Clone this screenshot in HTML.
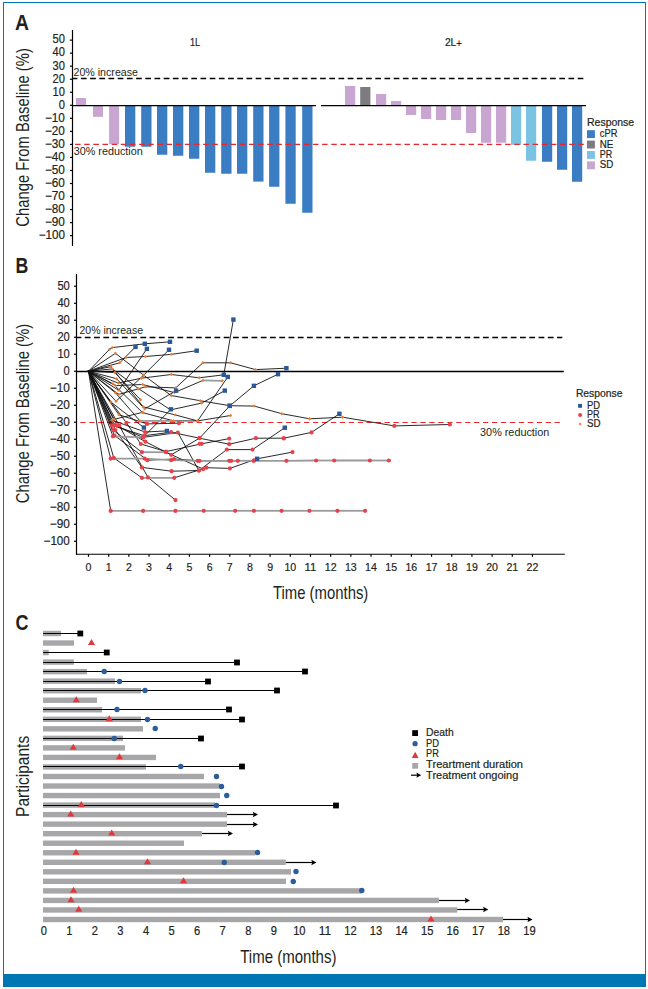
<!DOCTYPE html>
<html><head><meta charset="utf-8"><title>Figure</title>
<style>html,body{margin:0;padding:0;background:#fff;}svg{display:block;}text.s{stroke:#231f20;stroke-width:0.2px;}</style></head>
<body><svg width="648" height="989" viewBox="0 0 648 989" font-family='"Liberation Sans", Arial, sans-serif' fill="#231f20">
<rect width="648" height="989" fill="#fff"/>
<rect x="3.5" y="2.5" width="642" height="984" fill="none" stroke="#0077b5" stroke-width="1"/>
<rect x="3.00" y="974.00" width="643.00" height="13.00" fill="#0077b5"/>
<text x="15.00" y="29.90" font-size="21.8" font-weight="bold" textLength="14.00" lengthAdjust="spacingAndGlyphs">A</text>
<text x="28.90" y="226.70" font-size="17.6" textLength="178.60" lengthAdjust="spacingAndGlyphs" transform="rotate(-90 28.90 226.70)">Change From Baseline (%)</text>
<line x1="72.50" y1="29.90" x2="72.50" y2="245.90" stroke="#000" stroke-width="1.2"/>
<line x1="69.90" y1="40.14" x2="72.50" y2="40.14" stroke="#000" stroke-width="1.2"/>
<text x="64.90" y="43.44" font-size="12" text-anchor="end" textLength="12.40" lengthAdjust="spacingAndGlyphs" class="s">50</text>
<line x1="69.90" y1="53.17" x2="72.50" y2="53.17" stroke="#000" stroke-width="1.2"/>
<text x="64.90" y="56.47" font-size="12" text-anchor="end" textLength="12.40" lengthAdjust="spacingAndGlyphs" class="s">40</text>
<line x1="69.90" y1="66.20" x2="72.50" y2="66.20" stroke="#000" stroke-width="1.2"/>
<text x="64.90" y="69.50" font-size="12" text-anchor="end" textLength="12.40" lengthAdjust="spacingAndGlyphs" class="s">30</text>
<line x1="69.90" y1="79.23" x2="72.50" y2="79.23" stroke="#000" stroke-width="1.2"/>
<text x="64.90" y="82.53" font-size="12" text-anchor="end" textLength="12.40" lengthAdjust="spacingAndGlyphs" class="s">20</text>
<line x1="69.90" y1="92.27" x2="72.50" y2="92.27" stroke="#000" stroke-width="1.2"/>
<text x="64.90" y="95.57" font-size="12" text-anchor="end" textLength="12.40" lengthAdjust="spacingAndGlyphs" class="s">10</text>
<line x1="69.90" y1="105.30" x2="72.50" y2="105.30" stroke="#000" stroke-width="1.2"/>
<text x="64.90" y="108.60" font-size="12" text-anchor="end" textLength="6.20" lengthAdjust="spacingAndGlyphs" class="s">0</text>
<line x1="69.90" y1="118.33" x2="72.50" y2="118.33" stroke="#000" stroke-width="1.2"/>
<text x="64.90" y="121.63" font-size="12" text-anchor="end" textLength="20.00" lengthAdjust="spacingAndGlyphs" class="s">−10</text>
<line x1="69.90" y1="131.37" x2="72.50" y2="131.37" stroke="#000" stroke-width="1.2"/>
<text x="64.90" y="134.67" font-size="12" text-anchor="end" textLength="20.00" lengthAdjust="spacingAndGlyphs" class="s">−20</text>
<line x1="69.90" y1="144.40" x2="72.50" y2="144.40" stroke="#000" stroke-width="1.2"/>
<text x="64.90" y="147.70" font-size="12" text-anchor="end" textLength="20.00" lengthAdjust="spacingAndGlyphs" class="s">−30</text>
<line x1="69.90" y1="157.43" x2="72.50" y2="157.43" stroke="#000" stroke-width="1.2"/>
<text x="64.90" y="160.73" font-size="12" text-anchor="end" textLength="20.00" lengthAdjust="spacingAndGlyphs" class="s">−40</text>
<line x1="69.90" y1="170.46" x2="72.50" y2="170.46" stroke="#000" stroke-width="1.2"/>
<text x="64.90" y="173.76" font-size="12" text-anchor="end" textLength="20.00" lengthAdjust="spacingAndGlyphs" class="s">−50</text>
<line x1="69.90" y1="183.50" x2="72.50" y2="183.50" stroke="#000" stroke-width="1.2"/>
<text x="64.90" y="186.80" font-size="12" text-anchor="end" textLength="20.00" lengthAdjust="spacingAndGlyphs" class="s">−60</text>
<line x1="69.90" y1="196.53" x2="72.50" y2="196.53" stroke="#000" stroke-width="1.2"/>
<text x="64.90" y="199.83" font-size="12" text-anchor="end" textLength="20.00" lengthAdjust="spacingAndGlyphs" class="s">−70</text>
<line x1="69.90" y1="209.56" x2="72.50" y2="209.56" stroke="#000" stroke-width="1.2"/>
<text x="64.90" y="212.86" font-size="12" text-anchor="end" textLength="20.00" lengthAdjust="spacingAndGlyphs" class="s">−80</text>
<line x1="69.90" y1="222.60" x2="72.50" y2="222.60" stroke="#000" stroke-width="1.2"/>
<text x="64.90" y="225.90" font-size="12" text-anchor="end" textLength="20.00" lengthAdjust="spacingAndGlyphs" class="s">−90</text>
<line x1="69.90" y1="235.63" x2="72.50" y2="235.63" stroke="#000" stroke-width="1.2"/>
<text x="64.90" y="238.93" font-size="12" text-anchor="end" textLength="26.20" lengthAdjust="spacingAndGlyphs" class="s">−100</text>
<text x="189.90" y="45.90" font-size="11" textLength="10.20" lengthAdjust="spacingAndGlyphs" class="s">1L</text>
<text x="444.90" y="45.90" font-size="11" textLength="17.00" lengthAdjust="spacingAndGlyphs" class="s">2L<tspan dy="0.9" font-size="10.2">+</tspan></text>
<rect x="76.00" y="98.00" width="10.00" height="7.50" fill="#c9a6d1"/>
<rect x="93.00" y="105.50" width="10.00" height="11.35" fill="#c9a6d1"/>
<rect x="109.10" y="105.50" width="10.00" height="38.60" fill="#c9a6d1"/>
<rect x="125.00" y="105.50" width="10.30" height="41.25" fill="#3a7dc2"/>
<rect x="141.20" y="105.50" width="10.30" height="41.25" fill="#3a7dc2"/>
<rect x="157.00" y="105.50" width="10.30" height="49.25" fill="#3a7dc2"/>
<rect x="173.00" y="105.50" width="10.30" height="50.25" fill="#3a7dc2"/>
<rect x="189.00" y="105.50" width="10.30" height="53.25" fill="#3a7dc2"/>
<rect x="205.00" y="105.50" width="10.30" height="67.25" fill="#3a7dc2"/>
<rect x="221.20" y="105.50" width="10.30" height="68.25" fill="#3a7dc2"/>
<rect x="237.00" y="105.50" width="10.30" height="68.25" fill="#3a7dc2"/>
<rect x="253.20" y="105.50" width="10.30" height="76.10" fill="#3a7dc2"/>
<rect x="269.10" y="105.50" width="10.30" height="81.25" fill="#3a7dc2"/>
<rect x="285.40" y="105.50" width="10.30" height="98.25" fill="#3a7dc2"/>
<rect x="302.20" y="105.50" width="10.30" height="107.25" fill="#3a7dc2"/>
<rect x="345.00" y="86.00" width="10.20" height="19.50" fill="#c9a6d1"/>
<rect x="360.20" y="87.00" width="10.20" height="18.50" fill="#7b7c80"/>
<rect x="376.00" y="94.00" width="10.20" height="11.50" fill="#c9a6d1"/>
<rect x="391.00" y="101.00" width="10.20" height="4.50" fill="#c9a6d1"/>
<rect x="406.00" y="105.50" width="10.20" height="9.50" fill="#c9a6d1"/>
<rect x="421.00" y="105.50" width="10.20" height="13.50" fill="#c9a6d1"/>
<rect x="436.00" y="105.50" width="10.20" height="14.50" fill="#c9a6d1"/>
<rect x="451.00" y="105.50" width="10.20" height="14.50" fill="#c9a6d1"/>
<rect x="466.00" y="105.50" width="10.20" height="27.50" fill="#c9a6d1"/>
<rect x="481.00" y="105.50" width="10.20" height="37.25" fill="#c9a6d1"/>
<rect x="496.00" y="105.50" width="10.20" height="37.25" fill="#c9a6d1"/>
<rect x="511.00" y="105.50" width="10.20" height="39.25" fill="#7ac3e3"/>
<rect x="526.00" y="105.50" width="10.20" height="55.25" fill="#7ac3e3"/>
<rect x="542.00" y="105.50" width="10.20" height="56.25" fill="#3a7dc2"/>
<rect x="557.00" y="105.50" width="10.20" height="64.25" fill="#3a7dc2"/>
<rect x="572.00" y="105.50" width="10.20" height="76.25" fill="#3a7dc2"/>
<line x1="72.50" y1="105.50" x2="316.00" y2="105.50" stroke="#000" stroke-width="1.25"/>
<line x1="321.00" y1="105.50" x2="586.00" y2="105.50" stroke="#000" stroke-width="1.25"/>
<line x1="72.50" y1="78.50" x2="584.00" y2="78.50" stroke="#000" stroke-width="1.3" stroke-dasharray="5.7 3.5" stroke-dashoffset="0.8"/>
<line x1="72.50" y1="144.40" x2="584.00" y2="144.40" stroke="#e8262d" stroke-width="1.3" stroke-dasharray="5.5 3.65" stroke-dashoffset="6.6"/>
<text x="73.50" y="76.10" font-size="10.4" textLength="64.50" lengthAdjust="spacingAndGlyphs">20% increase</text>
<text x="73.70" y="154.80" font-size="10.4" textLength="69.10" lengthAdjust="spacingAndGlyphs">30% reduction</text>
<text x="587.00" y="125.60" font-size="10.3" textLength="47.20" lengthAdjust="spacingAndGlyphs" class="s">Response</text>
<rect x="587.00" y="130.20" width="7.90" height="7.90" fill="#3a7dc2"/>
<text x="599.80" y="137.20" font-size="10.3" textLength="17.60" lengthAdjust="spacingAndGlyphs" class="s">cPR</text>
<rect x="587.00" y="140.60" width="7.90" height="7.90" fill="#7b7c80"/>
<text x="599.80" y="147.60" font-size="10.3" textLength="13.60" lengthAdjust="spacingAndGlyphs" class="s">NE</text>
<rect x="587.00" y="151.00" width="7.90" height="7.90" fill="#7ac3e3"/>
<text x="599.80" y="158.00" font-size="10.3" textLength="12.50" lengthAdjust="spacingAndGlyphs" class="s">PR</text>
<rect x="587.00" y="161.40" width="7.90" height="7.90" fill="#c9a6d1"/>
<text x="599.80" y="168.40" font-size="10.3" textLength="13.60" lengthAdjust="spacingAndGlyphs" class="s">SD</text>
<text x="15.50" y="272.50" font-size="21.6" font-weight="bold" textLength="12.80" lengthAdjust="spacingAndGlyphs">B</text>
<text x="28.90" y="503.30" font-size="17.6" textLength="179.60" lengthAdjust="spacingAndGlyphs" transform="rotate(-90 28.90 503.30)">Change From Baseline (%)</text>
<line x1="76.50" y1="274.10" x2="76.50" y2="554.80" stroke="#000" stroke-width="1.2"/>
<line x1="75.90" y1="554.25" x2="564.80" y2="554.25" stroke="#000" stroke-width="1.2"/>
<line x1="74.00" y1="286.25" x2="76.50" y2="286.25" stroke="#000" stroke-width="1.2"/>
<text x="69.80" y="290.25" font-size="12" text-anchor="end" textLength="12.40" lengthAdjust="spacingAndGlyphs" class="s">50</text>
<line x1="74.00" y1="303.25" x2="76.50" y2="303.25" stroke="#000" stroke-width="1.2"/>
<text x="69.80" y="307.25" font-size="12" text-anchor="end" textLength="12.40" lengthAdjust="spacingAndGlyphs" class="s">40</text>
<line x1="74.00" y1="320.25" x2="76.50" y2="320.25" stroke="#000" stroke-width="1.2"/>
<text x="69.80" y="324.25" font-size="12" text-anchor="end" textLength="12.40" lengthAdjust="spacingAndGlyphs" class="s">30</text>
<line x1="74.00" y1="337.25" x2="76.50" y2="337.25" stroke="#000" stroke-width="1.2"/>
<text x="69.80" y="341.25" font-size="12" text-anchor="end" textLength="12.40" lengthAdjust="spacingAndGlyphs" class="s">20</text>
<line x1="74.00" y1="354.25" x2="76.50" y2="354.25" stroke="#000" stroke-width="1.2"/>
<text x="69.80" y="358.25" font-size="12" text-anchor="end" textLength="12.40" lengthAdjust="spacingAndGlyphs" class="s">10</text>
<line x1="74.00" y1="371.25" x2="76.50" y2="371.25" stroke="#000" stroke-width="1.2"/>
<text x="69.80" y="375.25" font-size="12" text-anchor="end" textLength="6.20" lengthAdjust="spacingAndGlyphs" class="s">0</text>
<line x1="74.00" y1="388.25" x2="76.50" y2="388.25" stroke="#000" stroke-width="1.2"/>
<text x="69.80" y="392.25" font-size="12" text-anchor="end" textLength="20.00" lengthAdjust="spacingAndGlyphs" class="s">−10</text>
<line x1="74.00" y1="405.25" x2="76.50" y2="405.25" stroke="#000" stroke-width="1.2"/>
<text x="69.80" y="409.25" font-size="12" text-anchor="end" textLength="20.00" lengthAdjust="spacingAndGlyphs" class="s">−20</text>
<line x1="74.00" y1="422.25" x2="76.50" y2="422.25" stroke="#000" stroke-width="1.2"/>
<text x="69.80" y="426.25" font-size="12" text-anchor="end" textLength="20.00" lengthAdjust="spacingAndGlyphs" class="s">−30</text>
<line x1="74.00" y1="439.25" x2="76.50" y2="439.25" stroke="#000" stroke-width="1.2"/>
<text x="69.80" y="443.25" font-size="12" text-anchor="end" textLength="20.00" lengthAdjust="spacingAndGlyphs" class="s">−40</text>
<line x1="74.00" y1="456.25" x2="76.50" y2="456.25" stroke="#000" stroke-width="1.2"/>
<text x="69.80" y="460.25" font-size="12" text-anchor="end" textLength="20.00" lengthAdjust="spacingAndGlyphs" class="s">−50</text>
<line x1="74.00" y1="473.25" x2="76.50" y2="473.25" stroke="#000" stroke-width="1.2"/>
<text x="69.80" y="477.25" font-size="12" text-anchor="end" textLength="20.00" lengthAdjust="spacingAndGlyphs" class="s">−60</text>
<line x1="74.00" y1="490.25" x2="76.50" y2="490.25" stroke="#000" stroke-width="1.2"/>
<text x="69.80" y="494.25" font-size="12" text-anchor="end" textLength="20.00" lengthAdjust="spacingAndGlyphs" class="s">−70</text>
<line x1="74.00" y1="507.25" x2="76.50" y2="507.25" stroke="#000" stroke-width="1.2"/>
<text x="69.80" y="511.25" font-size="12" text-anchor="end" textLength="20.00" lengthAdjust="spacingAndGlyphs" class="s">−80</text>
<line x1="74.00" y1="524.25" x2="76.50" y2="524.25" stroke="#000" stroke-width="1.2"/>
<text x="69.80" y="528.25" font-size="12" text-anchor="end" textLength="20.00" lengthAdjust="spacingAndGlyphs" class="s">−90</text>
<line x1="74.00" y1="541.25" x2="76.50" y2="541.25" stroke="#000" stroke-width="1.2"/>
<text x="69.80" y="545.25" font-size="12" text-anchor="end" textLength="26.20" lengthAdjust="spacingAndGlyphs" class="s">−100</text>
<line x1="88.50" y1="554.25" x2="88.50" y2="556.80" stroke="#000" stroke-width="1.2"/>
<text x="88.50" y="570.75" font-size="11.6" text-anchor="middle" textLength="5.90" lengthAdjust="spacingAndGlyphs" class="s">0</text>
<line x1="108.68" y1="554.25" x2="108.68" y2="556.80" stroke="#000" stroke-width="1.2"/>
<text x="108.68" y="570.75" font-size="11.6" text-anchor="middle" textLength="5.90" lengthAdjust="spacingAndGlyphs" class="s">1</text>
<line x1="128.86" y1="554.25" x2="128.86" y2="556.80" stroke="#000" stroke-width="1.2"/>
<text x="128.86" y="570.75" font-size="11.6" text-anchor="middle" textLength="5.90" lengthAdjust="spacingAndGlyphs" class="s">2</text>
<line x1="149.04" y1="554.25" x2="149.04" y2="556.80" stroke="#000" stroke-width="1.2"/>
<text x="149.04" y="570.75" font-size="11.6" text-anchor="middle" textLength="5.90" lengthAdjust="spacingAndGlyphs" class="s">3</text>
<line x1="169.22" y1="554.25" x2="169.22" y2="556.80" stroke="#000" stroke-width="1.2"/>
<text x="169.22" y="570.75" font-size="11.6" text-anchor="middle" textLength="5.90" lengthAdjust="spacingAndGlyphs" class="s">4</text>
<line x1="189.40" y1="554.25" x2="189.40" y2="556.80" stroke="#000" stroke-width="1.2"/>
<text x="189.40" y="570.75" font-size="11.6" text-anchor="middle" textLength="5.90" lengthAdjust="spacingAndGlyphs" class="s">5</text>
<line x1="209.58" y1="554.25" x2="209.58" y2="556.80" stroke="#000" stroke-width="1.2"/>
<text x="209.58" y="570.75" font-size="11.6" text-anchor="middle" textLength="5.90" lengthAdjust="spacingAndGlyphs" class="s">6</text>
<line x1="229.76" y1="554.25" x2="229.76" y2="556.80" stroke="#000" stroke-width="1.2"/>
<text x="229.76" y="570.75" font-size="11.6" text-anchor="middle" textLength="5.90" lengthAdjust="spacingAndGlyphs" class="s">7</text>
<line x1="249.94" y1="554.25" x2="249.94" y2="556.80" stroke="#000" stroke-width="1.2"/>
<text x="249.94" y="570.75" font-size="11.6" text-anchor="middle" textLength="5.90" lengthAdjust="spacingAndGlyphs" class="s">8</text>
<line x1="270.12" y1="554.25" x2="270.12" y2="556.80" stroke="#000" stroke-width="1.2"/>
<text x="270.12" y="570.75" font-size="11.6" text-anchor="middle" textLength="5.90" lengthAdjust="spacingAndGlyphs" class="s">9</text>
<line x1="290.30" y1="554.25" x2="290.30" y2="556.80" stroke="#000" stroke-width="1.2"/>
<text x="290.30" y="570.75" font-size="11.6" text-anchor="middle" textLength="11.80" lengthAdjust="spacingAndGlyphs" class="s">10</text>
<line x1="310.48" y1="554.25" x2="310.48" y2="556.80" stroke="#000" stroke-width="1.2"/>
<text x="310.48" y="570.75" font-size="11.6" text-anchor="middle" textLength="11.80" lengthAdjust="spacingAndGlyphs" class="s">11</text>
<line x1="330.66" y1="554.25" x2="330.66" y2="556.80" stroke="#000" stroke-width="1.2"/>
<text x="330.66" y="570.75" font-size="11.6" text-anchor="middle" textLength="11.80" lengthAdjust="spacingAndGlyphs" class="s">12</text>
<line x1="350.84" y1="554.25" x2="350.84" y2="556.80" stroke="#000" stroke-width="1.2"/>
<text x="350.84" y="570.75" font-size="11.6" text-anchor="middle" textLength="11.80" lengthAdjust="spacingAndGlyphs" class="s">13</text>
<line x1="371.02" y1="554.25" x2="371.02" y2="556.80" stroke="#000" stroke-width="1.2"/>
<text x="371.02" y="570.75" font-size="11.6" text-anchor="middle" textLength="11.80" lengthAdjust="spacingAndGlyphs" class="s">14</text>
<line x1="391.20" y1="554.25" x2="391.20" y2="556.80" stroke="#000" stroke-width="1.2"/>
<text x="391.20" y="570.75" font-size="11.6" text-anchor="middle" textLength="11.80" lengthAdjust="spacingAndGlyphs" class="s">15</text>
<line x1="411.38" y1="554.25" x2="411.38" y2="556.80" stroke="#000" stroke-width="1.2"/>
<text x="411.38" y="570.75" font-size="11.6" text-anchor="middle" textLength="11.80" lengthAdjust="spacingAndGlyphs" class="s">16</text>
<line x1="431.56" y1="554.25" x2="431.56" y2="556.80" stroke="#000" stroke-width="1.2"/>
<text x="431.56" y="570.75" font-size="11.6" text-anchor="middle" textLength="11.80" lengthAdjust="spacingAndGlyphs" class="s">17</text>
<line x1="451.74" y1="554.25" x2="451.74" y2="556.80" stroke="#000" stroke-width="1.2"/>
<text x="451.74" y="570.75" font-size="11.6" text-anchor="middle" textLength="11.80" lengthAdjust="spacingAndGlyphs" class="s">18</text>
<line x1="471.92" y1="554.25" x2="471.92" y2="556.80" stroke="#000" stroke-width="1.2"/>
<text x="471.92" y="570.75" font-size="11.6" text-anchor="middle" textLength="11.80" lengthAdjust="spacingAndGlyphs" class="s">19</text>
<line x1="492.10" y1="554.25" x2="492.10" y2="556.80" stroke="#000" stroke-width="1.2"/>
<text x="492.10" y="570.75" font-size="11.6" text-anchor="middle" textLength="11.80" lengthAdjust="spacingAndGlyphs" class="s">20</text>
<line x1="512.28" y1="554.25" x2="512.28" y2="556.80" stroke="#000" stroke-width="1.2"/>
<text x="512.28" y="570.75" font-size="11.6" text-anchor="middle" textLength="11.80" lengthAdjust="spacingAndGlyphs" class="s">21</text>
<line x1="532.46" y1="554.25" x2="532.46" y2="556.80" stroke="#000" stroke-width="1.2"/>
<text x="532.46" y="570.75" font-size="11.6" text-anchor="middle" textLength="11.80" lengthAdjust="spacingAndGlyphs" class="s">22</text>
<text x="273.00" y="598.70" font-size="18.2" textLength="95.30" lengthAdjust="spacingAndGlyphs">Time (months)</text>
<line x1="76.50" y1="337.50" x2="562.30" y2="337.50" stroke="#000" stroke-width="1.3" stroke-dasharray="5.8 3.46" stroke-dashoffset="0.96"/>
<line x1="76.50" y1="371.50" x2="563.80" y2="371.50" stroke="#000" stroke-width="1.3"/>
<line x1="76.50" y1="422.50" x2="562.30" y2="422.50" stroke="#e8262d" stroke-width="1.2" stroke-dasharray="5.3 3.65" stroke-dashoffset="5.2"/>
<text x="79.50" y="333.80" font-size="10.4" textLength="63.50" lengthAdjust="spacingAndGlyphs">20% increase</text>
<text x="480.10" y="436.10" font-size="10.4" textLength="69.20" lengthAdjust="spacingAndGlyphs">30% reduction</text>
<text x="575.90" y="396.70" font-size="10.3" textLength="46.60" lengthAdjust="spacingAndGlyphs" class="s">Response</text>
<rect x="578.10" y="403.90" width="3.90" height="3.90" fill="#2b5896"/>
<text x="586.90" y="409.00" font-size="10.8" textLength="13.10" lengthAdjust="spacingAndGlyphs" class="s">PD</text>
<circle cx="580.1" cy="415.1" r="2.0" fill="#e8414a"/>
<text x="586.90" y="417.70" font-size="10.8" textLength="12.60" lengthAdjust="spacingAndGlyphs" class="s">PR</text>
<path d="M580.2 422.4 L581.7 423.9 L580.2 425.4 L578.7 423.9Z" fill="#ec7d32"/>
<text x="586.90" y="426.80" font-size="10.8" textLength="13.60" lengthAdjust="spacingAndGlyphs" class="s">SD</text>
<g stroke="#111" stroke-width="0.9" fill="none" stroke-linecap="round">
<line x1="88.50" y1="371.25" x2="109.40" y2="349.40"/>
<line x1="109.40" y1="349.40" x2="112.20" y2="347.60"/>
<line x1="112.20" y1="347.60" x2="144.80" y2="343.80"/>
<line x1="144.80" y1="343.80" x2="170.00" y2="341.80"/>
<line x1="88.50" y1="371.25" x2="126.10" y2="357.50"/>
<line x1="126.10" y1="357.50" x2="145.40" y2="356.50"/>
<line x1="145.40" y1="356.50" x2="171.20" y2="354.40"/>
<line x1="171.20" y1="354.40" x2="196.70" y2="350.70"/>
<line x1="88.50" y1="371.25" x2="119.70" y2="362.80"/>
<line x1="119.70" y1="362.80" x2="135.50" y2="346.90"/>
<line x1="88.50" y1="371.25" x2="118.75" y2="390.40"/>
<line x1="118.75" y1="390.40" x2="146.90" y2="348.80"/>
<line x1="88.50" y1="371.25" x2="116.00" y2="401.25"/>
<line x1="116.00" y1="401.25" x2="143.60" y2="375.20"/>
<line x1="143.60" y1="375.20" x2="169.00" y2="349.80"/>
<line x1="88.50" y1="371.25" x2="115.40" y2="353.30"/>
<line x1="115.40" y1="353.30" x2="143.60" y2="375.20"/>
<line x1="143.60" y1="375.20" x2="171.10" y2="395.50"/>
<line x1="171.10" y1="395.50" x2="200.10" y2="400.70"/>
<line x1="200.10" y1="400.70" x2="229.80" y2="405.70"/>
<line x1="229.80" y1="405.70" x2="254.30" y2="406.10"/>
<line x1="254.30" y1="406.10" x2="281.80" y2="413.70"/>
<line x1="281.80" y1="413.70" x2="309.70" y2="418.80"/>
<line x1="309.70" y1="418.80" x2="342.60" y2="417.20"/>
<line x1="342.60" y1="417.20" x2="394.30" y2="425.90"/>
<line x1="394.30" y1="425.90" x2="449.80" y2="424.50"/>
<line x1="88.50" y1="371.25" x2="118.25" y2="383.10"/>
<line x1="118.25" y1="383.10" x2="141.40" y2="378.20"/>
<line x1="141.40" y1="378.20" x2="171.30" y2="374.50"/>
<line x1="171.30" y1="374.50" x2="199.30" y2="377.80"/>
<line x1="199.30" y1="377.80" x2="223.80" y2="374.80"/>
<line x1="223.80" y1="374.80" x2="233.40" y2="319.60"/>
<line x1="88.50" y1="371.25" x2="118.75" y2="394.40"/>
<line x1="118.75" y1="394.40" x2="145.40" y2="386.80"/>
<line x1="145.40" y1="386.80" x2="175.70" y2="387.90"/>
<line x1="175.70" y1="387.90" x2="202.90" y2="362.80"/>
<line x1="202.90" y1="362.80" x2="230.60" y2="362.80"/>
<line x1="230.60" y1="362.80" x2="255.50" y2="369.60"/>
<line x1="255.50" y1="369.60" x2="286.40" y2="368.20"/>
<line x1="88.50" y1="371.25" x2="115.40" y2="385.60"/>
<line x1="115.40" y1="385.60" x2="142.60" y2="384.50"/>
<line x1="142.60" y1="384.50" x2="174.40" y2="392.60"/>
<line x1="174.40" y1="392.60" x2="202.90" y2="380.40"/>
<line x1="88.50" y1="371.25" x2="112.30" y2="368.90"/>
<line x1="112.30" y1="368.90" x2="138.60" y2="388.70"/>
<line x1="138.60" y1="388.70" x2="170.50" y2="409.90"/>
<line x1="170.50" y1="409.90" x2="201.60" y2="403.10"/>
<line x1="201.60" y1="403.10" x2="224.80" y2="390.60"/>
<line x1="88.50" y1="371.25" x2="114.75" y2="372.50"/>
<line x1="114.75" y1="372.50" x2="140.50" y2="399.80"/>
<line x1="88.50" y1="371.25" x2="110.80" y2="366.70"/>
<line x1="110.80" y1="366.70" x2="143.30" y2="406.90"/>
<line x1="143.30" y1="406.90" x2="175.20" y2="414.90"/>
<line x1="175.20" y1="414.90" x2="197.60" y2="420.90"/>
<line x1="197.60" y1="420.90" x2="230.60" y2="415.50"/>
<line x1="88.50" y1="371.25" x2="116.60" y2="378.75"/>
<line x1="116.60" y1="378.75" x2="144.70" y2="408.90"/>
<line x1="144.70" y1="408.90" x2="176.10" y2="390.70"/>
<line x1="88.50" y1="371.25" x2="112.90" y2="383.75"/>
<line x1="112.90" y1="383.75" x2="142.60" y2="412.60"/>
<line x1="142.60" y1="412.60" x2="173.60" y2="420.90"/>
<line x1="88.50" y1="371.25" x2="115.40" y2="392.75"/>
<line x1="115.40" y1="392.75" x2="140.00" y2="420.90"/>
<line x1="171.10" y1="420.90" x2="197.60" y2="420.90"/>
<line x1="197.60" y1="420.90" x2="227.80" y2="376.90"/>
<line x1="88.50" y1="371.25" x2="110.75" y2="401.90"/>
<line x1="110.75" y1="401.90" x2="143.90" y2="427.60"/>
<line x1="88.50" y1="371.25" x2="118.90" y2="414.70"/>
<line x1="118.90" y1="414.70" x2="147.00" y2="423.90"/>
<line x1="147.00" y1="423.90" x2="178.90" y2="423.20"/>
<line x1="88.50" y1="371.25" x2="111.90" y2="420.10"/>
<line x1="111.90" y1="420.10" x2="145.10" y2="432.00"/>
<line x1="145.10" y1="432.00" x2="166.90" y2="430.90"/>
<line x1="88.50" y1="371.25" x2="114.20" y2="419.30"/>
<line x1="114.20" y1="419.30" x2="142.80" y2="412.30"/>
<line x1="88.50" y1="371.25" x2="112.20" y2="425.50"/>
<line x1="112.20" y1="425.50" x2="144.20" y2="435.70"/>
<line x1="144.20" y1="435.70" x2="171.10" y2="432.20"/>
<line x1="171.10" y1="432.20" x2="199.50" y2="438.20"/>
<line x1="199.50" y1="438.20" x2="229.20" y2="444.20"/>
<line x1="229.20" y1="444.20" x2="255.90" y2="438.20"/>
<line x1="255.90" y1="438.20" x2="283.80" y2="438.20"/>
<line x1="283.80" y1="438.20" x2="311.50" y2="432.40"/>
<line x1="311.50" y1="432.40" x2="339.40" y2="413.80"/>
<line x1="88.50" y1="371.25" x2="114.50" y2="425.00"/>
<line x1="114.50" y1="425.00" x2="143.00" y2="437.40"/>
<line x1="143.00" y1="437.40" x2="177.80" y2="432.50"/>
<line x1="177.80" y1="432.50" x2="198.90" y2="470.60"/>
<line x1="198.90" y1="470.60" x2="226.80" y2="449.60"/>
<line x1="226.80" y1="449.60" x2="252.50" y2="449.60"/>
<line x1="252.50" y1="449.60" x2="284.80" y2="427.70"/>
<line x1="88.50" y1="371.25" x2="116.90" y2="425.50"/>
<line x1="116.90" y1="425.50" x2="145.40" y2="441.70"/>
<line x1="145.40" y1="441.70" x2="171.20" y2="454.80"/>
<line x1="171.20" y1="454.80" x2="199.50" y2="438.20"/>
<line x1="199.50" y1="438.20" x2="229.80" y2="405.90"/>
<line x1="229.80" y1="405.90" x2="253.90" y2="385.80"/>
<line x1="253.90" y1="385.80" x2="278.00" y2="374.20"/>
<line x1="88.50" y1="371.25" x2="126.40" y2="422.80"/>
<line x1="126.40" y1="422.80" x2="140.80" y2="444.00"/>
<line x1="140.80" y1="444.00" x2="166.00" y2="451.60"/>
<line x1="166.00" y1="451.60" x2="201.70" y2="443.80"/>
<line x1="201.70" y1="443.80" x2="229.20" y2="438.60"/>
<line x1="88.50" y1="371.25" x2="113.00" y2="430.00"/>
<line x1="113.00" y1="430.00" x2="141.90" y2="452.20"/>
<line x1="165.90" y1="452.20" x2="203.20" y2="469.10"/>
<line x1="88.50" y1="371.25" x2="113.00" y2="436.30"/>
<line x1="143.00" y1="437.40" x2="170.90" y2="409.30"/>
<line x1="88.50" y1="371.25" x2="110.70" y2="458.60"/>
<line x1="88.50" y1="371.25" x2="113.80" y2="457.90"/>
<line x1="113.80" y1="457.90" x2="141.90" y2="477.80"/>
<line x1="174.30" y1="477.80" x2="206.50" y2="467.70"/>
<line x1="206.50" y1="467.70" x2="229.90" y2="468.40"/>
<line x1="229.90" y1="468.40" x2="257.10" y2="458.80"/>
<line x1="257.10" y1="458.80" x2="292.50" y2="452.10"/>
<line x1="88.50" y1="371.25" x2="110.70" y2="510.90"/>
<line x1="88.50" y1="371.25" x2="115.30" y2="430.00"/>
<line x1="115.30" y1="430.00" x2="141.90" y2="467.40"/>
<line x1="141.90" y1="467.40" x2="171.60" y2="471.20"/>
<line x1="171.60" y1="471.20" x2="199.10" y2="470.50"/>
<line x1="88.50" y1="371.25" x2="114.50" y2="435.50"/>
<line x1="114.50" y1="435.50" x2="147.40" y2="460.20"/>
<line x1="147.40" y1="460.20" x2="174.00" y2="459.00"/>
<line x1="174.00" y1="459.00" x2="199.50" y2="460.80"/>
<line x1="199.50" y1="460.80" x2="231.20" y2="460.80"/>
<line x1="231.20" y1="460.80" x2="237.80" y2="460.80"/>
<line x1="88.50" y1="371.25" x2="119.20" y2="425.50"/>
<line x1="119.20" y1="425.50" x2="148.00" y2="477.40"/>
<line x1="148.00" y1="477.40" x2="175.50" y2="500.10"/>
</g>
<g stroke="#9a9a9a" stroke-width="1.8" fill="none">
<line x1="202.90" y1="380.40" x2="222.20" y2="380.80"/>
<line x1="140.00" y1="420.90" x2="171.10" y2="420.90"/>
<line x1="141.90" y1="452.20" x2="165.90" y2="452.20"/>
<line x1="113.00" y1="436.30" x2="143.00" y2="437.40"/>
<line x1="110.70" y1="458.60" x2="144.60" y2="458.60"/>
<line x1="144.60" y1="458.60" x2="171.20" y2="460.20"/>
<line x1="171.20" y1="460.20" x2="197.70" y2="460.80"/>
<line x1="197.70" y1="460.80" x2="229.20" y2="460.80"/>
<line x1="229.20" y1="460.80" x2="253.70" y2="460.80"/>
<line x1="253.70" y1="460.80" x2="286.40" y2="460.80"/>
<line x1="286.40" y1="460.80" x2="316.10" y2="460.50"/>
<line x1="316.10" y1="460.50" x2="334.20" y2="460.50"/>
<line x1="334.20" y1="460.50" x2="369.90" y2="460.50"/>
<line x1="369.90" y1="460.50" x2="388.90" y2="460.50"/>
<line x1="141.90" y1="477.80" x2="174.30" y2="477.80"/>
<line x1="110.70" y1="510.90" x2="143.10" y2="510.90"/>
<line x1="143.10" y1="510.90" x2="175.50" y2="510.90"/>
<line x1="175.50" y1="510.90" x2="203.70" y2="510.80"/>
<line x1="203.70" y1="510.80" x2="235.20" y2="510.80"/>
<line x1="235.20" y1="510.80" x2="253.90" y2="510.80"/>
<line x1="253.90" y1="510.80" x2="281.60" y2="510.80"/>
<line x1="281.60" y1="510.80" x2="309.50" y2="510.80"/>
<line x1="309.50" y1="510.80" x2="337.40" y2="510.80"/>
<line x1="337.40" y1="510.80" x2="365.10" y2="510.80"/>
</g>
<path d="M109.40 347.70L111.10 349.40L109.40 351.10L107.70 349.40Z" fill="#ec7d32"/>
<path d="M112.20 345.90L113.90 347.60L112.20 349.30L110.50 347.60Z" fill="#ec7d32"/>
<path d="M126.10 355.80L127.80 357.50L126.10 359.20L124.40 357.50Z" fill="#ec7d32"/>
<path d="M145.40 354.80L147.10 356.50L145.40 358.20L143.70 356.50Z" fill="#ec7d32"/>
<path d="M171.20 352.70L172.90 354.40L171.20 356.10L169.50 354.40Z" fill="#ec7d32"/>
<path d="M119.70 361.10L121.40 362.80L119.70 364.50L118.00 362.80Z" fill="#ec7d32"/>
<path d="M118.75 388.70L120.45 390.40L118.75 392.10L117.05 390.40Z" fill="#ec7d32"/>
<path d="M116.00 399.55L117.70 401.25L116.00 402.95L114.30 401.25Z" fill="#ec7d32"/>
<path d="M143.60 373.50L145.30 375.20L143.60 376.90L141.90 375.20Z" fill="#ec7d32"/>
<path d="M115.40 351.60L117.10 353.30L115.40 355.00L113.70 353.30Z" fill="#ec7d32"/>
<path d="M143.60 373.50L145.30 375.20L143.60 376.90L141.90 375.20Z" fill="#ec7d32"/>
<path d="M171.10 393.80L172.80 395.50L171.10 397.20L169.40 395.50Z" fill="#ec7d32"/>
<path d="M200.10 399.00L201.80 400.70L200.10 402.40L198.40 400.70Z" fill="#ec7d32"/>
<path d="M254.30 404.40L256.00 406.10L254.30 407.80L252.60 406.10Z" fill="#ec7d32"/>
<path d="M281.80 412.00L283.50 413.70L281.80 415.40L280.10 413.70Z" fill="#ec7d32"/>
<path d="M309.70 417.10L311.40 418.80L309.70 420.50L308.00 418.80Z" fill="#ec7d32"/>
<path d="M342.60 415.50L344.30 417.20L342.60 418.90L340.90 417.20Z" fill="#ec7d32"/>
<path d="M118.25 381.40L119.95 383.10L118.25 384.80L116.55 383.10Z" fill="#ec7d32"/>
<path d="M141.40 376.50L143.10 378.20L141.40 379.90L139.70 378.20Z" fill="#ec7d32"/>
<path d="M171.30 372.80L173.00 374.50L171.30 376.20L169.60 374.50Z" fill="#ec7d32"/>
<path d="M199.30 376.10L201.00 377.80L199.30 379.50L197.60 377.80Z" fill="#ec7d32"/>
<path d="M118.75 392.70L120.45 394.40L118.75 396.10L117.05 394.40Z" fill="#ec7d32"/>
<path d="M145.40 385.10L147.10 386.80L145.40 388.50L143.70 386.80Z" fill="#ec7d32"/>
<path d="M175.70 386.20L177.40 387.90L175.70 389.60L174.00 387.90Z" fill="#ec7d32"/>
<path d="M202.90 361.10L204.60 362.80L202.90 364.50L201.20 362.80Z" fill="#ec7d32"/>
<path d="M230.60 361.10L232.30 362.80L230.60 364.50L228.90 362.80Z" fill="#ec7d32"/>
<path d="M255.50 367.90L257.20 369.60L255.50 371.30L253.80 369.60Z" fill="#ec7d32"/>
<path d="M115.40 383.90L117.10 385.60L115.40 387.30L113.70 385.60Z" fill="#ec7d32"/>
<path d="M142.60 382.80L144.30 384.50L142.60 386.20L140.90 384.50Z" fill="#ec7d32"/>
<path d="M174.40 390.90L176.10 392.60L174.40 394.30L172.70 392.60Z" fill="#ec7d32"/>
<path d="M202.90 378.70L204.60 380.40L202.90 382.10L201.20 380.40Z" fill="#ec7d32"/>
<path d="M222.20 379.10L223.90 380.80L222.20 382.50L220.50 380.80Z" fill="#ec7d32"/>
<path d="M112.30 367.20L114.00 368.90L112.30 370.60L110.60 368.90Z" fill="#ec7d32"/>
<path d="M138.60 387.00L140.30 388.70L138.60 390.40L136.90 388.70Z" fill="#ec7d32"/>
<path d="M170.50 408.20L172.20 409.90L170.50 411.60L168.80 409.90Z" fill="#ec7d32"/>
<path d="M201.60 401.40L203.30 403.10L201.60 404.80L199.90 403.10Z" fill="#ec7d32"/>
<path d="M114.75 370.80L116.45 372.50L114.75 374.20L113.05 372.50Z" fill="#ec7d32"/>
<path d="M140.50 398.10L142.20 399.80L140.50 401.50L138.80 399.80Z" fill="#ec7d32"/>
<path d="M110.80 365.00L112.50 366.70L110.80 368.40L109.10 366.70Z" fill="#ec7d32"/>
<path d="M143.30 405.20L145.00 406.90L143.30 408.60L141.60 406.90Z" fill="#ec7d32"/>
<path d="M175.20 413.20L176.90 414.90L175.20 416.60L173.50 414.90Z" fill="#ec7d32"/>
<path d="M197.60 419.20L199.30 420.90L197.60 422.60L195.90 420.90Z" fill="#ec7d32"/>
<path d="M230.60 413.80L232.30 415.50L230.60 417.20L228.90 415.50Z" fill="#ec7d32"/>
<path d="M116.60 377.05L118.30 378.75L116.60 380.45L114.90 378.75Z" fill="#ec7d32"/>
<path d="M144.70 407.20L146.40 408.90L144.70 410.60L143.00 408.90Z" fill="#ec7d32"/>
<path d="M112.90 382.05L114.60 383.75L112.90 385.45L111.20 383.75Z" fill="#ec7d32"/>
<path d="M142.60 410.90L144.30 412.60L142.60 414.30L140.90 412.60Z" fill="#ec7d32"/>
<path d="M173.60 419.20L175.30 420.90L173.60 422.60L171.90 420.90Z" fill="#ec7d32"/>
<path d="M115.40 391.05L117.10 392.75L115.40 394.45L113.70 392.75Z" fill="#ec7d32"/>
<path d="M140.00 419.20L141.70 420.90L140.00 422.60L138.30 420.90Z" fill="#ec7d32"/>
<path d="M171.10 419.20L172.80 420.90L171.10 422.60L169.40 420.90Z" fill="#ec7d32"/>
<path d="M197.60 419.20L199.30 420.90L197.60 422.60L195.90 420.90Z" fill="#ec7d32"/>
<path d="M110.75 400.20L112.45 401.90L110.75 403.60L109.05 401.90Z" fill="#ec7d32"/>
<path d="M118.90 413.00L120.60 414.70L118.90 416.40L117.20 414.70Z" fill="#ec7d32"/>
<path d="M111.90 418.40L113.60 420.10L111.90 421.80L110.20 420.10Z" fill="#ec7d32"/>
<path d="M114.20 417.60L115.90 419.30L114.20 421.00L112.50 419.30Z" fill="#ec7d32"/>
<path d="M142.80 410.60L144.50 412.30L142.80 414.00L141.10 412.30Z" fill="#ec7d32"/>
<circle cx="394.30" cy="425.90" r="2.1" fill="#e8414a"/>
<circle cx="449.80" cy="424.50" r="2.1" fill="#e8414a"/>
<circle cx="147.00" cy="423.90" r="2.1" fill="#e8414a"/>
<circle cx="178.90" cy="423.20" r="2.1" fill="#e8414a"/>
<circle cx="145.10" cy="432.00" r="2.1" fill="#e8414a"/>
<circle cx="112.20" cy="425.50" r="2.1" fill="#e8414a"/>
<circle cx="144.20" cy="435.70" r="2.1" fill="#e8414a"/>
<circle cx="171.10" cy="432.20" r="2.1" fill="#e8414a"/>
<circle cx="199.50" cy="438.20" r="2.1" fill="#e8414a"/>
<circle cx="229.20" cy="444.20" r="2.1" fill="#e8414a"/>
<circle cx="255.90" cy="438.20" r="2.1" fill="#e8414a"/>
<circle cx="283.80" cy="438.20" r="2.1" fill="#e8414a"/>
<circle cx="311.50" cy="432.40" r="2.1" fill="#e8414a"/>
<circle cx="114.50" cy="425.00" r="2.1" fill="#e8414a"/>
<circle cx="143.00" cy="437.40" r="2.1" fill="#e8414a"/>
<circle cx="177.80" cy="432.50" r="2.1" fill="#e8414a"/>
<circle cx="198.90" cy="470.60" r="2.1" fill="#e8414a"/>
<circle cx="226.80" cy="449.60" r="2.1" fill="#e8414a"/>
<circle cx="252.50" cy="449.60" r="2.1" fill="#e8414a"/>
<circle cx="116.90" cy="425.50" r="2.1" fill="#e8414a"/>
<circle cx="145.40" cy="441.70" r="2.1" fill="#e8414a"/>
<circle cx="171.20" cy="454.80" r="2.1" fill="#e8414a"/>
<circle cx="199.50" cy="438.20" r="2.1" fill="#e8414a"/>
<circle cx="126.40" cy="422.80" r="2.1" fill="#e8414a"/>
<circle cx="140.80" cy="444.00" r="2.1" fill="#e8414a"/>
<circle cx="166.00" cy="451.60" r="2.1" fill="#e8414a"/>
<circle cx="201.70" cy="443.80" r="2.1" fill="#e8414a"/>
<circle cx="229.20" cy="438.60" r="2.1" fill="#e8414a"/>
<circle cx="113.00" cy="430.00" r="2.1" fill="#e8414a"/>
<circle cx="141.90" cy="452.20" r="2.1" fill="#e8414a"/>
<circle cx="165.90" cy="452.20" r="2.1" fill="#e8414a"/>
<circle cx="203.20" cy="469.10" r="2.1" fill="#e8414a"/>
<circle cx="113.00" cy="436.30" r="2.1" fill="#e8414a"/>
<circle cx="143.00" cy="437.40" r="2.1" fill="#e8414a"/>
<circle cx="110.70" cy="458.60" r="2.1" fill="#e8414a"/>
<circle cx="144.60" cy="458.60" r="2.1" fill="#e8414a"/>
<circle cx="171.20" cy="460.20" r="2.1" fill="#e8414a"/>
<circle cx="197.70" cy="460.80" r="2.1" fill="#e8414a"/>
<circle cx="229.20" cy="460.80" r="2.1" fill="#e8414a"/>
<circle cx="253.70" cy="460.80" r="2.1" fill="#e8414a"/>
<circle cx="286.40" cy="460.80" r="2.1" fill="#e8414a"/>
<circle cx="316.10" cy="460.50" r="2.1" fill="#e8414a"/>
<circle cx="334.20" cy="460.50" r="2.1" fill="#e8414a"/>
<circle cx="369.90" cy="460.50" r="2.1" fill="#e8414a"/>
<circle cx="388.90" cy="460.50" r="2.1" fill="#e8414a"/>
<circle cx="113.80" cy="457.90" r="2.1" fill="#e8414a"/>
<circle cx="141.90" cy="477.80" r="2.1" fill="#e8414a"/>
<circle cx="174.30" cy="477.80" r="2.1" fill="#e8414a"/>
<circle cx="206.50" cy="467.70" r="2.1" fill="#e8414a"/>
<circle cx="229.90" cy="468.40" r="2.1" fill="#e8414a"/>
<circle cx="292.50" cy="452.10" r="2.1" fill="#e8414a"/>
<circle cx="110.70" cy="510.90" r="2.1" fill="#e8414a"/>
<circle cx="143.10" cy="510.90" r="2.1" fill="#e8414a"/>
<circle cx="175.50" cy="510.90" r="2.1" fill="#e8414a"/>
<circle cx="203.70" cy="510.80" r="2.1" fill="#e8414a"/>
<circle cx="235.20" cy="510.80" r="2.1" fill="#e8414a"/>
<circle cx="253.90" cy="510.80" r="2.1" fill="#e8414a"/>
<circle cx="281.60" cy="510.80" r="2.1" fill="#e8414a"/>
<circle cx="309.50" cy="510.80" r="2.1" fill="#e8414a"/>
<circle cx="337.40" cy="510.80" r="2.1" fill="#e8414a"/>
<circle cx="365.10" cy="510.80" r="2.1" fill="#e8414a"/>
<circle cx="115.30" cy="430.00" r="2.1" fill="#e8414a"/>
<circle cx="141.90" cy="467.40" r="2.1" fill="#e8414a"/>
<circle cx="171.60" cy="471.20" r="2.1" fill="#e8414a"/>
<circle cx="199.10" cy="470.50" r="2.1" fill="#e8414a"/>
<circle cx="114.50" cy="435.50" r="2.1" fill="#e8414a"/>
<circle cx="147.40" cy="460.20" r="2.1" fill="#e8414a"/>
<circle cx="174.00" cy="459.00" r="2.1" fill="#e8414a"/>
<circle cx="199.50" cy="460.80" r="2.1" fill="#e8414a"/>
<circle cx="231.20" cy="460.80" r="2.1" fill="#e8414a"/>
<circle cx="237.80" cy="460.80" r="2.1" fill="#e8414a"/>
<circle cx="119.20" cy="425.50" r="2.1" fill="#e8414a"/>
<circle cx="148.00" cy="477.40" r="2.1" fill="#e8414a"/>
<circle cx="175.50" cy="500.10" r="2.1" fill="#e8414a"/>
<circle cx="283.60" cy="438.50" r="2.1" fill="#e8414a"/>
<circle cx="253.90" cy="460.40" r="2.1" fill="#e8414a"/>
<circle cx="199.70" cy="443.80" r="2.1" fill="#e8414a"/>
<rect x="142.60" y="341.60" width="4.4" height="4.4" fill="#2b5896"/>
<rect x="167.80" y="339.60" width="4.4" height="4.4" fill="#2b5896"/>
<rect x="194.50" y="348.50" width="4.4" height="4.4" fill="#2b5896"/>
<rect x="133.30" y="344.70" width="4.4" height="4.4" fill="#2b5896"/>
<rect x="144.70" y="346.60" width="4.4" height="4.4" fill="#2b5896"/>
<rect x="166.80" y="347.60" width="4.4" height="4.4" fill="#2b5896"/>
<rect x="227.60" y="403.50" width="4.4" height="4.4" fill="#2b5896"/>
<rect x="221.60" y="372.60" width="4.4" height="4.4" fill="#2b5896"/>
<rect x="231.20" y="317.40" width="4.4" height="4.4" fill="#2b5896"/>
<rect x="284.20" y="366.00" width="4.4" height="4.4" fill="#2b5896"/>
<rect x="222.60" y="388.40" width="4.4" height="4.4" fill="#2b5896"/>
<rect x="173.90" y="388.50" width="4.4" height="4.4" fill="#2b5896"/>
<rect x="225.60" y="374.70" width="4.4" height="4.4" fill="#2b5896"/>
<rect x="141.70" y="425.40" width="4.4" height="4.4" fill="#2b5896"/>
<rect x="164.70" y="428.70" width="4.4" height="4.4" fill="#2b5896"/>
<rect x="337.20" y="411.60" width="4.4" height="4.4" fill="#2b5896"/>
<rect x="282.60" y="425.50" width="4.4" height="4.4" fill="#2b5896"/>
<rect x="227.60" y="403.70" width="4.4" height="4.4" fill="#2b5896"/>
<rect x="251.70" y="383.60" width="4.4" height="4.4" fill="#2b5896"/>
<rect x="275.80" y="372.00" width="4.4" height="4.4" fill="#2b5896"/>
<rect x="168.70" y="407.10" width="4.4" height="4.4" fill="#2b5896"/>
<rect x="254.90" y="456.60" width="4.4" height="4.4" fill="#2b5896"/>
<text x="15.40" y="629.90" font-size="21.2" font-weight="bold" textLength="13.00" lengthAdjust="spacingAndGlyphs">C</text>
<text x="29.50" y="816.90" font-size="17.8" textLength="81.10" lengthAdjust="spacingAndGlyphs" transform="rotate(-90 29.50 816.90)">Participants</text>
<text x="43.75" y="935.00" font-size="12.2" text-anchor="middle" textLength="6.20" lengthAdjust="spacingAndGlyphs" class="s">0</text>
<text x="69.31" y="935.00" font-size="12.2" text-anchor="middle" textLength="6.20" lengthAdjust="spacingAndGlyphs" class="s">1</text>
<text x="94.87" y="935.00" font-size="12.2" text-anchor="middle" textLength="6.20" lengthAdjust="spacingAndGlyphs" class="s">2</text>
<text x="120.43" y="935.00" font-size="12.2" text-anchor="middle" textLength="6.20" lengthAdjust="spacingAndGlyphs" class="s">3</text>
<text x="145.99" y="935.00" font-size="12.2" text-anchor="middle" textLength="6.20" lengthAdjust="spacingAndGlyphs" class="s">4</text>
<text x="171.55" y="935.00" font-size="12.2" text-anchor="middle" textLength="6.20" lengthAdjust="spacingAndGlyphs" class="s">5</text>
<text x="197.11" y="935.00" font-size="12.2" text-anchor="middle" textLength="6.20" lengthAdjust="spacingAndGlyphs" class="s">6</text>
<text x="222.67" y="935.00" font-size="12.2" text-anchor="middle" textLength="6.20" lengthAdjust="spacingAndGlyphs" class="s">7</text>
<text x="248.23" y="935.00" font-size="12.2" text-anchor="middle" textLength="6.20" lengthAdjust="spacingAndGlyphs" class="s">8</text>
<text x="273.79" y="935.00" font-size="12.2" text-anchor="middle" textLength="6.20" lengthAdjust="spacingAndGlyphs" class="s">9</text>
<text x="299.35" y="935.00" font-size="12.2" text-anchor="middle" textLength="12.40" lengthAdjust="spacingAndGlyphs" class="s">10</text>
<text x="324.91" y="935.00" font-size="12.2" text-anchor="middle" textLength="12.40" lengthAdjust="spacingAndGlyphs" class="s">11</text>
<text x="350.47" y="935.00" font-size="12.2" text-anchor="middle" textLength="12.40" lengthAdjust="spacingAndGlyphs" class="s">12</text>
<text x="376.03" y="935.00" font-size="12.2" text-anchor="middle" textLength="12.40" lengthAdjust="spacingAndGlyphs" class="s">13</text>
<text x="401.59" y="935.00" font-size="12.2" text-anchor="middle" textLength="12.40" lengthAdjust="spacingAndGlyphs" class="s">14</text>
<text x="427.15" y="935.00" font-size="12.2" text-anchor="middle" textLength="12.40" lengthAdjust="spacingAndGlyphs" class="s">15</text>
<text x="452.71" y="935.00" font-size="12.2" text-anchor="middle" textLength="12.40" lengthAdjust="spacingAndGlyphs" class="s">16</text>
<text x="478.27" y="935.00" font-size="12.2" text-anchor="middle" textLength="12.40" lengthAdjust="spacingAndGlyphs" class="s">17</text>
<text x="503.83" y="935.00" font-size="12.2" text-anchor="middle" textLength="12.40" lengthAdjust="spacingAndGlyphs" class="s">18</text>
<text x="529.39" y="935.00" font-size="12.2" text-anchor="middle" textLength="12.40" lengthAdjust="spacingAndGlyphs" class="s">19</text>
<text x="240.20" y="962.60" font-size="18.2" textLength="96.30" lengthAdjust="spacingAndGlyphs">Time (months)</text>
<rect x="43.00" y="630.80" width="18.00" height="5.40" fill="#a7a7a9"/>
<line x1="43.10" y1="633.50" x2="80.30" y2="633.50" stroke="#000" stroke-width="1.2"/>
<rect x="77.40" y="630.60" width="5.80" height="5.80" fill="#000"/>
<rect x="43.00" y="640.33" width="31.00" height="5.40" fill="#a7a7a9"/>
<path d="M91.50 638.93 L95.10 644.93 L87.90 644.93Z" fill="#e1383d"/>
<rect x="43.00" y="649.87" width="5.75" height="5.40" fill="#a7a7a9"/>
<line x1="43.10" y1="652.50" x2="106.75" y2="652.50" stroke="#000" stroke-width="1.2"/>
<rect x="103.85" y="649.60" width="5.80" height="5.80" fill="#000"/>
<rect x="43.00" y="659.40" width="31.00" height="5.40" fill="#a7a7a9"/>
<line x1="43.10" y1="662.50" x2="237.00" y2="662.50" stroke="#000" stroke-width="1.2"/>
<rect x="234.10" y="659.60" width="5.80" height="5.80" fill="#000"/>
<rect x="43.00" y="668.93" width="44.00" height="5.40" fill="#a7a7a9"/>
<line x1="43.10" y1="671.50" x2="305.00" y2="671.50" stroke="#000" stroke-width="1.2"/>
<rect x="302.10" y="668.60" width="5.80" height="5.80" fill="#000"/>
<circle cx="104.25" cy="671.50" r="2.7" fill="#2c5d9b"/>
<rect x="43.00" y="678.46" width="72.00" height="5.40" fill="#a7a7a9"/>
<line x1="43.10" y1="681.50" x2="208.00" y2="681.50" stroke="#000" stroke-width="1.2"/>
<rect x="205.10" y="678.60" width="5.80" height="5.80" fill="#000"/>
<circle cx="119.50" cy="681.50" r="2.7" fill="#2c5d9b"/>
<rect x="43.00" y="688.00" width="98.00" height="5.40" fill="#a7a7a9"/>
<line x1="43.10" y1="690.50" x2="277.00" y2="690.50" stroke="#000" stroke-width="1.2"/>
<rect x="274.10" y="687.60" width="5.80" height="5.80" fill="#000"/>
<circle cx="145.00" cy="690.50" r="2.7" fill="#2c5d9b"/>
<rect x="43.00" y="697.53" width="54.00" height="5.40" fill="#a7a7a9"/>
<path d="M76.25 696.13 L79.85 702.13 L72.65 702.13Z" fill="#e1383d"/>
<rect x="43.00" y="707.06" width="59.00" height="5.40" fill="#a7a7a9"/>
<line x1="43.10" y1="709.50" x2="229.00" y2="709.50" stroke="#000" stroke-width="1.2"/>
<rect x="226.10" y="706.60" width="5.80" height="5.80" fill="#000"/>
<circle cx="117.00" cy="709.50" r="2.7" fill="#2c5d9b"/>
<rect x="43.00" y="716.60" width="98.00" height="5.40" fill="#a7a7a9"/>
<line x1="43.10" y1="719.50" x2="242.00" y2="719.50" stroke="#000" stroke-width="1.2"/>
<rect x="239.10" y="716.60" width="5.80" height="5.80" fill="#000"/>
<path d="M109.25 715.20 L112.85 721.20 L105.65 721.20Z" fill="#e1383d"/>
<circle cx="147.50" cy="719.50" r="2.7" fill="#2c5d9b"/>
<rect x="43.00" y="726.13" width="100.00" height="5.40" fill="#a7a7a9"/>
<circle cx="155.25" cy="728.50" r="2.7" fill="#2c5d9b"/>
<rect x="43.00" y="735.66" width="80.00" height="5.40" fill="#a7a7a9"/>
<line x1="43.10" y1="738.50" x2="201.00" y2="738.50" stroke="#000" stroke-width="1.2"/>
<rect x="198.10" y="735.60" width="5.80" height="5.80" fill="#000"/>
<circle cx="114.25" cy="738.50" r="2.7" fill="#2c5d9b"/>
<rect x="43.00" y="745.20" width="82.00" height="5.40" fill="#a7a7a9"/>
<path d="M73.25 743.80 L76.85 749.80 L69.65 749.80Z" fill="#e1383d"/>
<rect x="43.00" y="754.73" width="113.00" height="5.40" fill="#a7a7a9"/>
<path d="M119.50 753.33 L123.10 759.33 L115.90 759.33Z" fill="#e1383d"/>
<rect x="43.00" y="764.26" width="103.00" height="5.40" fill="#a7a7a9"/>
<line x1="43.10" y1="766.50" x2="242.00" y2="766.50" stroke="#000" stroke-width="1.2"/>
<rect x="239.10" y="763.60" width="5.80" height="5.80" fill="#000"/>
<circle cx="180.75" cy="766.50" r="2.7" fill="#2c5d9b"/>
<rect x="43.00" y="773.79" width="161.00" height="5.40" fill="#a7a7a9"/>
<circle cx="216.50" cy="776.50" r="2.7" fill="#2c5d9b"/>
<rect x="43.00" y="783.33" width="177.00" height="5.40" fill="#a7a7a9"/>
<circle cx="221.50" cy="786.50" r="2.7" fill="#2c5d9b"/>
<rect x="43.00" y="792.86" width="177.00" height="5.40" fill="#a7a7a9"/>
<circle cx="226.75" cy="795.50" r="2.7" fill="#2c5d9b"/>
<rect x="43.00" y="802.39" width="172.00" height="5.40" fill="#a7a7a9"/>
<line x1="43.10" y1="805.50" x2="336.00" y2="805.50" stroke="#000" stroke-width="1.2"/>
<rect x="333.10" y="802.60" width="5.80" height="5.80" fill="#000"/>
<path d="M81.25 800.99 L84.85 806.99 L77.65 806.99Z" fill="#e1383d"/>
<circle cx="216.50" cy="805.50" r="2.7" fill="#2c5d9b"/>
<rect x="43.00" y="811.93" width="184.00" height="5.40" fill="#a7a7a9"/>
<line x1="227.00" y1="814.50" x2="255.00" y2="814.50" stroke="#000" stroke-width="1.2"/>
<path d="M258.00 814.50 L252.80 811.70 L253.70 814.50 L252.80 817.30Z" fill="#000"/>
<path d="M70.75 810.53 L74.35 816.53 L67.15 816.53Z" fill="#e1383d"/>
<rect x="43.00" y="821.46" width="184.00" height="5.40" fill="#a7a7a9"/>
<line x1="227.00" y1="824.50" x2="255.00" y2="824.50" stroke="#000" stroke-width="1.2"/>
<path d="M258.00 824.50 L252.80 821.70 L253.70 824.50 L252.80 827.30Z" fill="#000"/>
<rect x="43.00" y="830.99" width="159.00" height="5.40" fill="#a7a7a9"/>
<line x1="202.00" y1="833.50" x2="230.00" y2="833.50" stroke="#000" stroke-width="1.2"/>
<path d="M233.00 833.50 L227.80 830.70 L228.70 833.50 L227.80 836.30Z" fill="#000"/>
<path d="M111.75 829.59 L115.35 835.59 L108.15 835.59Z" fill="#e1383d"/>
<rect x="43.00" y="840.53" width="141.00" height="5.40" fill="#a7a7a9"/>
<rect x="43.00" y="850.06" width="212.50" height="5.40" fill="#a7a7a9"/>
<path d="M76.00 848.66 L79.60 854.66 L72.40 854.66Z" fill="#e1383d"/>
<circle cx="257.50" cy="852.50" r="2.7" fill="#2c5d9b"/>
<rect x="43.00" y="859.59" width="242.75" height="5.40" fill="#a7a7a9"/>
<line x1="285.75" y1="862.50" x2="313.50" y2="862.50" stroke="#000" stroke-width="1.2"/>
<path d="M316.50 862.50 L311.30 859.70 L312.20 862.50 L311.30 865.30Z" fill="#000"/>
<path d="M147.50 858.19 L151.10 864.19 L143.90 864.19Z" fill="#e1383d"/>
<circle cx="224.25" cy="862.50" r="2.7" fill="#2c5d9b"/>
<rect x="43.00" y="869.12" width="248.00" height="5.40" fill="#a7a7a9"/>
<circle cx="296.00" cy="871.50" r="2.7" fill="#2c5d9b"/>
<rect x="43.00" y="878.66" width="243.00" height="5.40" fill="#a7a7a9"/>
<path d="M183.50 877.26 L187.10 883.26 L179.90 883.26Z" fill="#e1383d"/>
<circle cx="293.25" cy="881.50" r="2.7" fill="#2c5d9b"/>
<rect x="43.00" y="888.19" width="318.80" height="5.40" fill="#a7a7a9"/>
<path d="M73.50 886.79 L77.10 892.79 L69.90 892.79Z" fill="#e1383d"/>
<circle cx="361.80" cy="890.50" r="2.7" fill="#2c5d9b"/>
<rect x="43.00" y="897.72" width="395.90" height="5.40" fill="#a7a7a9"/>
<line x1="438.90" y1="900.50" x2="467.00" y2="900.50" stroke="#000" stroke-width="1.2"/>
<path d="M470.00 900.50 L464.80 897.70 L465.70 900.50 L464.80 903.30Z" fill="#000"/>
<path d="M71.00 896.32 L74.60 902.32 L67.40 902.32Z" fill="#e1383d"/>
<rect x="43.00" y="907.26" width="414.20" height="5.40" fill="#a7a7a9"/>
<line x1="457.20" y1="909.50" x2="485.30" y2="909.50" stroke="#000" stroke-width="1.2"/>
<path d="M488.30 909.50 L483.10 906.70 L484.00 909.50 L483.10 912.30Z" fill="#000"/>
<path d="M78.75 905.86 L82.35 911.86 L75.15 911.86Z" fill="#e1383d"/>
<rect x="43.00" y="916.79" width="460.00" height="5.40" fill="#a7a7a9"/>
<line x1="503.00" y1="919.50" x2="529.60" y2="919.50" stroke="#000" stroke-width="1.2"/>
<path d="M532.60 919.50 L527.40 916.70 L528.30 919.50 L527.40 922.30Z" fill="#000"/>
<path d="M431.00 915.39 L434.60 921.39 L427.40 921.39Z" fill="#e1383d"/>
<rect x="412.20" y="730.20" width="5.80" height="5.80" fill="#000"/>
<text x="426.10" y="735.60" font-size="10.6" textLength="27.60" lengthAdjust="spacingAndGlyphs" class="s">Death</text>
<circle cx="415.1" cy="743.7" r="2.6" fill="#2c5d9b"/>
<text x="426.10" y="746.50" font-size="10.6" textLength="13.00" lengthAdjust="spacingAndGlyphs" class="s">PD</text>
<path d="M415.2 751.7 L418.6 758.1 L411.8 758.1Z" fill="#e1383d"/>
<text x="426.10" y="757.30" font-size="10.6" textLength="12.80" lengthAdjust="spacingAndGlyphs" class="s">PR</text>
<rect x="412.20" y="763.00" width="6.00" height="5.70" fill="#a7a7a9"/>
<text x="426.10" y="768.10" font-size="10.6" textLength="96.90" lengthAdjust="spacingAndGlyphs" class="s">Treartment duration</text>
<line x1="411.00" y1="775.20" x2="418.00" y2="775.20" stroke="#000" stroke-width="1.2"/>
<path d="M421.2 775.2 L416.4 772.6 L417.2 775.2 L416.4 777.8Z" fill="#000"/>
<text x="426.10" y="778.60" font-size="10.6" textLength="92.20" lengthAdjust="spacingAndGlyphs" class="s">Treatment ongoing</text>
</svg></body></html>
